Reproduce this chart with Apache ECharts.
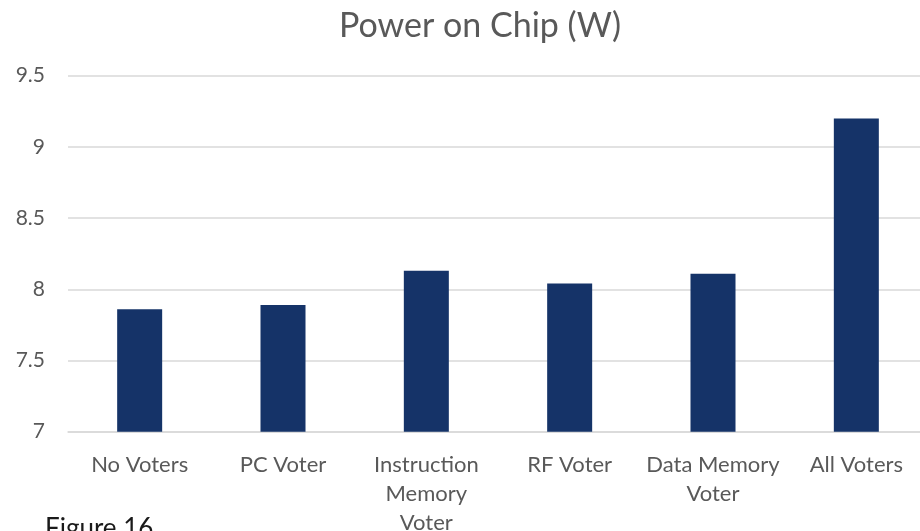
<!DOCTYPE html>
<html>
<head>
<meta charset="utf-8">
<style>
  html, body { margin: 0; padding: 0; background: #fff; }
  #chart { width: 920px; height: 531px; }
</style>
<script src="https://cdn.jsdelivr.net/npm/echarts@6/dist/echarts.min.js"></script>
</head>
<body>
<div id="chart"></div>
<script>
// Chip power per fault-tolerance configuration (watts)
const categories = ['No Voters', 'PC Voter', 'Instruction\nMemory\nVoter', 'RF Voter', 'Data Memory\nVoter', 'All Voters'];
const powerW = [7.86, 7.89, 8.13, 8.04, 8.11, 9.2];
const yTicks = [7, 7.5, 8, 8.5, 9, 9.5];

const textColor = '#595959';
const fontFamily = 'Lato, "Open Sans", sans-serif';

const chart = echarts.init(document.getElementById('chart'), null, { renderer: 'canvas' });

chart.setOption({
  animation: false,
  backgroundColor: '#ffffff',
  title: {
    text: 'Power on Chip (W)',
    left: 475,
    textAlign: 'center',
    top: 4,
    textStyle: { color: textColor, fontFamily, fontSize: 34, fontWeight: 'normal' }
  },
  // plot area runs slightly past the right edge of the canvas
  grid: {
    left: 68, width: 860, top: 75.7, height: 356,
    containLabel: false,
    outerBoundsMode: 'none'
  },
  xAxis: {
    type: 'category',
    data: categories,
    axisLine: { show: true, lineStyle: { color: '#d9d9d9', width: 1.5 } },
    axisTick: { show: false },
    axisLabel: {
      color: textColor,
      fontFamily,
      fontSize: 22,
      margin: 19,
      lineHeight: 29,
      interval: 0,
      verticalAlign: 'top'
    }
  },
  yAxis: {
    type: 'value',
    min: yTicks[0],
    max: yTicks[yTicks.length - 1],
    interval: 0.5,
    axisLine: { show: false },
    axisTick: { show: false },
    splitLine: { lineStyle: { color: '#d9d9d9', width: 1.5 } },
    axisLabel: { color: textColor, fontFamily, fontSize: 21, margin: 23 }
  },
  series: [{
    type: 'bar',
    data: powerW,
    barWidth: 45,
    itemStyle: { color: '#153368' }
  }],
  graphic: [{
    type: 'text',
    left: 45,
    top: 516,
    style: { text: 'Figure 16', fill: '#1a1a1a', font: '26px ' + fontFamily }
  }]
});
</script>
</body>
</html>
